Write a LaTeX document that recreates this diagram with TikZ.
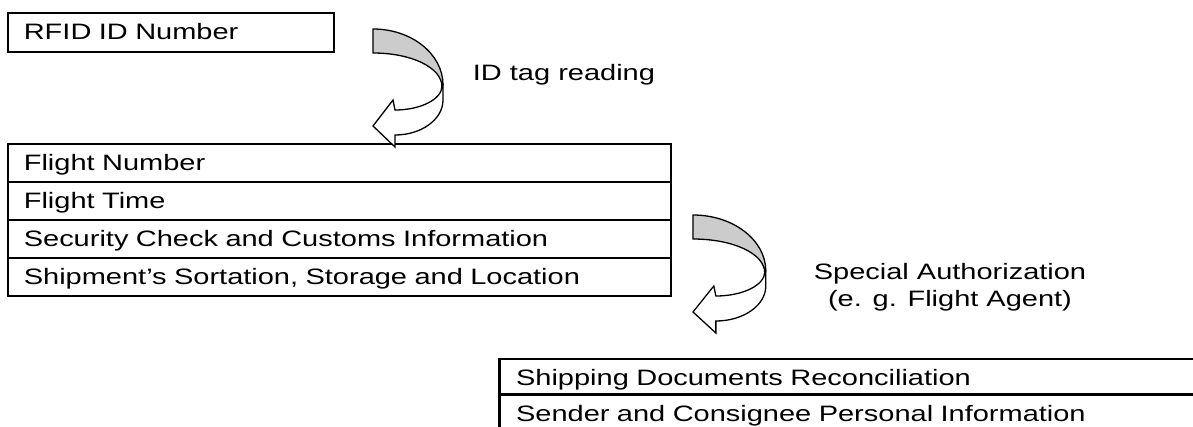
\documentclass[tikz,border=0pt]{standalone}
\usepackage{fontspec}
\setmainfont[FakeStretch=1.30]{Liberation Sans}
\definecolor{bandgray}{RGB}{204,204,204}
\begin{document}
\begin{tikzpicture}[x=1pt,y=-1pt,
  txt/.style={font=\fontsize{22.3}{27.4}\selectfont, inner sep=0pt},
  cell/.style={draw, line width=2.2pt, anchor=north west, align=left,
    font=\fontsize{22.3}{27.4}\selectfont, inner ysep=0pt,
    text height=17pt, text depth=2.4pt},
  midcell/.style={cell, inner xsep=15.7pt, text width=631.1pt, minimum height=37.9pt},
  lowcell/.style={cell, inner xsep=16.7pt, text width=766.6pt, minimum height=35.8pt,
    text height=19pt, text depth=1.2pt},
  band/.style={draw, line width=1.3pt, line join=miter},
]
\useasboundingbox (0,0) rectangle (1193,426);
\clip (0,0) rectangle (1193,426);

% first box
\node[cell, inner xsep=15.7pt, text width=294.6pt, minimum height=38.8pt] (rfid) at (7,11.7) {RFID ID Number};

% middle table
\node[midcell] (fn)  at (7,143)   {Flight Number};
\node[midcell] (ft)  at (7,180.9) {Flight Time};
\node[midcell] (sc)  at (7,218.8) {Security Check and Customs Information};
\node[midcell] (ss)  at (7,256.7) {Shipment’s Sortation, Storage and Location};

% bottom table (cut off by the page)
\node[lowcell] (sd)  at (498.3,357.5) {Shipping Documents Reconciliation};
\node[lowcell] (sp)  at (498.3,393.3) {Sender and Consignee Personal Information};

% labels
\node[txt, anchor=base west] (lab1) at (472.7,80) {ID tag reading};
\node[txt, align=center, anchor=center] (lab2) at (950,287.3) {Special Authorization\\(e. g. Flight Agent)};

% curved arrows
\foreach \sx/\sy/\xs in {373/29/1, 693/215/1.04}{
\begin{scope}[shift={(\sx,\sy)}, xscale=\xs]
  \path[band, fill=bandgray] (0,0) .. controls (38.6,0) and (70,25) .. (70,56)
     -- (69,58) .. controls (69,38.3) and (38,24) .. (0,24) -- cycle;
  \path[band, fill=white] (70,56) -- (70,71) .. controls (70,90.3) and (48.5,106) .. (22,106)
     -- (22,118) -- (0,97) -- (20,71) -- (22,81)
     .. controls (48,81) and (69,70) .. (69,57) -- cycle;
\end{scope}
}
\end{tikzpicture}
\end{document}
